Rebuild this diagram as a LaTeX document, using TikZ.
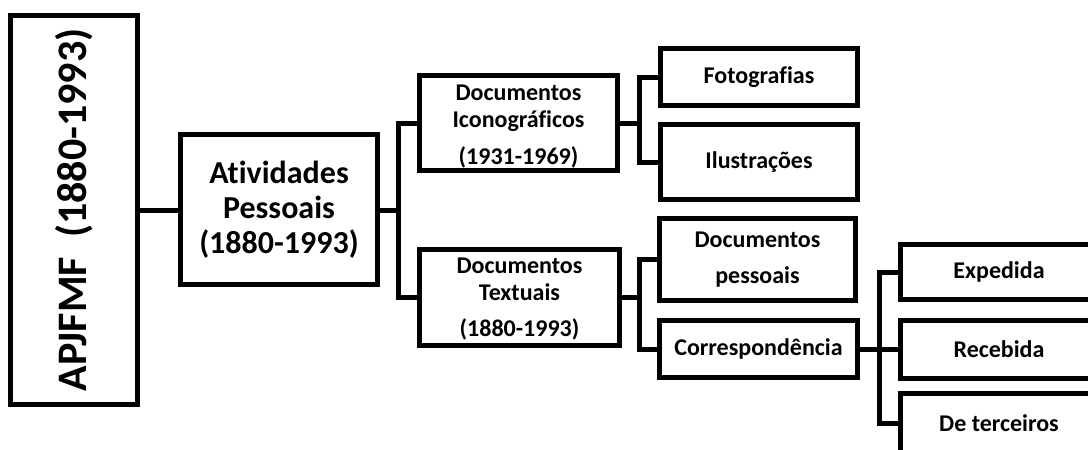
\documentclass[tikz,border=0pt]{standalone}
\usepackage{fontspec}
\setmainfont{Carlito}[Ligatures=NoCommon]
\begin{document}
\begin{tikzpicture}[x=1pt,y=-1pt,
  box/.style={draw=black,line width=5pt,fill=white,rectangle,inner sep=0pt,align=center,font=\bfseries},
  small/.style={box,font=\fontsize{24}{27}\selectfont\bfseries},
  link/.style={draw=black,line width=5pt,line join=miter}]
\useasboundingbox (0,0) rectangle (1088,450);
\begin{scope}
\clip (0,0) rectangle (1088,450);
% nodes
\node[box,minimum width=127pt,minimum height=389pt] (root) at (74,210) {};
\node[rotate=90,font=\fontsize{42}{48}\selectfont\bfseries,inner sep=0pt] (roott) at (74,210) {APJFMF\ \ (1880-1993)};
\node[box,minimum width=197pt,minimum height=150pt,font=\fontsize{32}{35}\selectfont\bfseries] (ativ) at (279,209.5) {Atividades\\Pessoais\\(1880-1993)};
\node[small,minimum width=198pt,minimum height=95pt] (icon) at (518.5,123) {\rule{0pt}{22pt}Documentos\\Iconográficos\\[10pt](1931-1969)};
\node[small,minimum width=200pt,minimum height=96pt] (text) at (519.5,297.5) {\rule{0pt}{18pt}Documentos\\Textuais\\[9pt](1880-1993)};
\node[small,minimum width=197pt,minimum height=57pt] (foto) at (759,77) {Fotografias};
\node[small,minimum width=197pt,minimum height=75pt] (ilus) at (759,162) {Ilustrações};
\node[small,minimum width=196pt,minimum height=82pt,font=\fontsize{24}{36}\selectfont\bfseries] (pess) at (757.5,259.5) {Documentos\\pessoais};
\node[small,minimum width=198pt,minimum height=57pt] (corr) at (758.5,349) {Correspondência};
\node[small,minimum width=198pt,minimum height=55pt] (exp) at (999,272) {Expedida};
\node[small,minimum width=198pt,minimum height=58pt] (rec) at (999,349) {Recebida};
\node[small,minimum width=198pt,minimum height=60pt] (ter) at (999,423) {De terceiros};
% junctions
\coordinate (j1) at (398,210);
\coordinate (j2) at (639,123);
\coordinate (j3) at (639,297.5);
\coordinate (j4) at (879,349);
% connectors
\draw[link] (root.east |- 0,210) -- (ativ.west |- 0,210);
\draw[link] (ativ.east |- j1) -- (j1);
\draw[link] (icon.west) -| (j1) |- (text.west);
\draw[link] (icon.east) -- (j2);
\draw[link] (foto.west) -| (j2) |- (ilus.west);
\draw[link] (text.east) -- (j3);
\draw[link] (pess.west) -| (j3) |- (corr.west);
\draw[link] (corr.east) -- (rec.west);
\draw[link] (exp.west) -| (j4) |- (ter.west);
\end{scope}
\end{tikzpicture}
\end{document}
